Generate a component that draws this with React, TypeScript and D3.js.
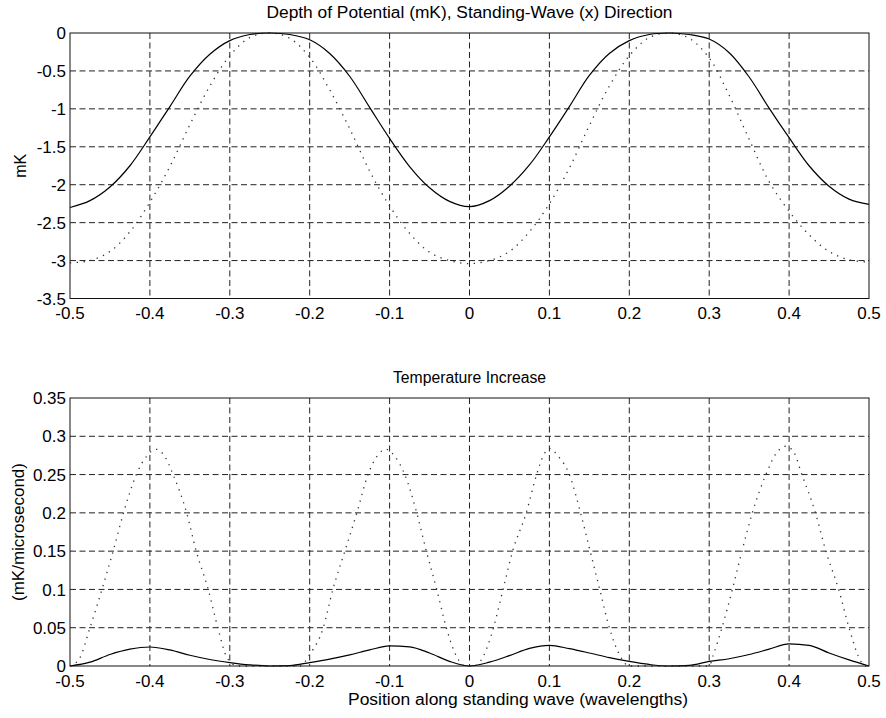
import React from 'react';
import * as d3 from 'd3';

// Shared horizontal axis (position in wavelengths)
const X_TICKS = [-0.5, -0.4, -0.3, -0.2, -0.1, 0, 0.1, 0.2, 0.3, 0.4, 0.5];
const X_TICK_LABELS = ['-0.5', '-0.4', '-0.3', '-0.2', '-0.1', '0', '0.1', '0.2', '0.3', '0.4', '0.5'];

// Upper panel: depth of potential (mK)
const DEPTH_TICKS = [0, -0.5, -1, -1.5, -2, -2.5, -3, -3.5];
const DEPTH_TICK_LABELS = ['0', '-0.5', '-1', '-1.5', '-2', '-2.5', '-3', '-3.5'];

const DEPTH_X = [
  -0.5, -0.475, -0.45, -0.425, -0.4, -0.375, -0.35, -0.325, -0.3, -0.275,
  -0.25, -0.225, -0.2, -0.175, -0.15, -0.125, -0.1, -0.075, -0.05, -0.025,
  0, 0.025, 0.05, 0.075, 0.1, 0.125, 0.15, 0.175, 0.2, 0.225,
  0.25, 0.275, 0.3, 0.325, 0.35, 0.375, 0.4, 0.425, 0.45, 0.475, 0.5,
];
const DEPTH_SOLID = [
  -2.3, -2.21, -2.03, -1.75, -1.37, -0.97, -0.57, -0.28, -0.1, -0.02,
  0, -0.02, -0.09, -0.27, -0.57, -0.98, -1.39, -1.76, -2.04, -2.22,
  -2.29, -2.21, -2.02, -1.74, -1.37, -0.97, -0.56, -0.27, -0.1, -0.02,
  0, -0.02, -0.08, -0.26, -0.58, -0.99, -1.38, -1.75, -2.02, -2.19, -2.26,
];
const DEPTH_DOTTED = [
  -3.03, -3.0, -2.88, -2.62, -2.23, -1.76, -1.21, -0.7, -0.3, -0.06,
  0, -0.07, -0.32, -0.75, -1.26, -1.82, -2.28, -2.64, -2.89, -3.0,
  -3.04, -3.0, -2.88, -2.62, -2.25, -1.78, -1.22, -0.7, -0.3, -0.06,
  0, -0.07, -0.33, -0.82, -1.4, -1.96, -2.35, -2.66, -2.88, -2.99, -3.02,
];

// Lower panel: temperature increase (mK/microsecond)
const HEAT_TICKS = [0, 0.05, 0.1, 0.15, 0.2, 0.25, 0.3, 0.35];
const HEAT_TICK_LABELS = ['0', '0.05', '0.1', '0.15', '0.2', '0.25', '0.3', '0.35'];

const HEAT_X = DEPTH_X;
const HEAT_SOLID = [
  0, 0.005, 0.015, 0.022, 0.0248, 0.021, 0.014, 0.0085, 0.0045, 0.0015,
  0, 0.0005, 0.0045, 0.009, 0.0145, 0.021, 0.0262, 0.025, 0.017, 0.006,
  0, 0.005, 0.0135, 0.023, 0.027, 0.0226, 0.017, 0.011, 0.006, 0.002,
  0, 0.0008, 0.006, 0.0095, 0.015, 0.022, 0.029, 0.027, 0.017, 0.008, 0,
];

const HEAT_DOTTED_X = [
  -0.5, -0.488, -0.475, -0.46, -0.446, -0.433, -0.417, -0.404, -0.392, -0.381,
  -0.371, -0.354, -0.342, -0.327, -0.315, -0.303, -0.29,
  -0.212, -0.2, -0.183, -0.171, -0.156, -0.141, -0.127, -0.115, -0.104,
  -0.093, -0.081, -0.066, -0.054, -0.041, -0.029, -0.016, -0.005,
  0.005, 0.017, 0.03, 0.042, 0.054, 0.071, 0.084, 0.093, 0.1,
  0.111, 0.125, 0.139, 0.151, 0.163, 0.175, 0.188, 0.2,
  0.3, 0.305, 0.316, 0.329, 0.341, 0.354, 0.371, 0.384, 0.396,
  0.406, 0.416, 0.433, 0.446, 0.462, 0.475, 0.487, 0.495, 0.5,
];
const HEAT_DOTTED = [
  0, 0.01, 0.05, 0.1, 0.15, 0.2, 0.25, 0.274, 0.283, 0.273,
  0.25, 0.2, 0.15, 0.1, 0.05, 0.01, 0,
  0, 0.015, 0.05, 0.1, 0.15, 0.2, 0.25, 0.275, 0.283,
  0.273, 0.25, 0.2, 0.15, 0.1, 0.05, 0.012, 0,
  0, 0.012, 0.05, 0.1, 0.15, 0.2, 0.25, 0.276, 0.284,
  0.274, 0.25, 0.2, 0.15, 0.1, 0.05, 0.014, 0,
  0, 0.014, 0.05, 0.1, 0.15, 0.2, 0.25, 0.278, 0.287,
  0.279, 0.25, 0.2, 0.15, 0.1, 0.05, 0.012, 0, 0,
];

const FONT = "'Liberation Sans', Arial, Helvetica, sans-serif";
const PLOT_LEFT = 70;
const PLOT_RIGHT = 869;

type Series = { xs: number[]; ys: number[]; dotted: boolean };

type PanelProps = {
  top: number;
  bottom: number;
  yDomain: [number, number];
  yTicks: number[];
  yTickLabels: string[];
  title: string;
  titleWidth: number;
  yLabel: string;
  yLabelX: number;
  yLabelWidth?: number;
  curve: d3.CurveFactory;
  series: Series[];
};

function Panel(p: PanelProps) {
  const x = d3.scaleLinear().domain([-0.5, 0.5]).range([PLOT_LEFT, PLOT_RIGHT]);
  const y = d3.scaleLinear().domain(p.yDomain).range([p.bottom, p.top]);
  const midX = (PLOT_LEFT + PLOT_RIGHT) / 2;
  const midY = (p.top + p.bottom) / 2;

  return (
    <g>
      {/* dashed grid */}
      <g stroke="#222" strokeWidth={1} strokeDasharray="6 3.5" fill="none">
        {X_TICKS.slice(1, -1).map((t) => (
          <line key={'gx' + t} x1={x(t)} x2={x(t)} y1={p.top} y2={p.bottom} />
        ))}
        {p.yTicks
          .filter((t) => t !== p.yDomain[0] && t !== p.yDomain[1])
          .map((t) => (
            <line key={'gy' + t} x1={PLOT_LEFT} x2={PLOT_RIGHT} y1={y(t)} y2={y(t)} />
          ))}
      </g>

      {/* curves */}
      {p.series.map((s, i) => {
        const pts: [number, number][] = s.xs.map((v, k) => [v, s.ys[k]]);
        const line = d3
          .line<[number, number]>()
          .x((d) => x(d[0]))
          .y((d) => y(d[1]))
          .curve(p.curve);
        return (
          <path
            key={i}
            d={line(pts) || ''}
            fill="none"
            stroke={s.dotted ? '#333' : '#000'}
            strokeWidth={s.dotted ? 1.3 : 1.2}
            strokeDasharray={s.dotted ? '1.3 5.5' : undefined}
          />
        );
      })}

      {/* axes box */}
      <rect
        x={PLOT_LEFT}
        y={p.top}
        width={PLOT_RIGHT - PLOT_LEFT}
        height={p.bottom - p.top}
        fill="none"
        stroke="#111"
        strokeWidth={1}
      />

      {/* tick labels */}
      <g fontFamily={FONT} fontSize={17} fill="#000">
        {X_TICKS.map((t, i) => (
          <text key={'xt' + t} x={x(t)} y={p.bottom + 20.5} textAnchor="middle">
            {X_TICK_LABELS[i]}
          </text>
        ))}
        {p.yTicks.map((t, i) => (
          <text key={'yt' + t} x={66} y={y(t)} dy="0.36em" textAnchor="end">
            {p.yTickLabels[i]}
          </text>
        ))}
      </g>
      <g fontFamily={FONT} fontSize={16} fill="#000">
        <text
          x={midX}
          y={p.top - 14.7}
          textAnchor="middle"
          textLength={p.titleWidth}
          lengthAdjust="spacingAndGlyphs"
        >
          {p.title}
        </text>
        <text
          transform={`translate(${p.yLabelX},${midY}) rotate(-90)`}
          textAnchor="middle"
          textLength={p.yLabelWidth}
          lengthAdjust={p.yLabelWidth ? 'spacingAndGlyphs' : undefined}
        >
          {p.yLabel}
        </text>
      </g>
    </g>
  );
}

export default function App() {
  return (
    <svg
      width={886}
      height={718}
      viewBox="0 0 886 718"
      style={{ position: 'absolute', left: 0, top: 0, background: '#fff' }}
    >
      <rect x={0} y={0} width={886} height={718} fill="#fff" />
      <Panel
        top={33}
        bottom={298.5}
        yDomain={[-3.5, 0]}
        yTicks={DEPTH_TICKS}
        yTickLabels={DEPTH_TICK_LABELS}
        title="Depth of Potential (mK), Standing-Wave (x) Direction"
        titleWidth={406}
        yLabel="mK"
        yLabelX={25.5}
        curve={d3.curveCatmullRom.alpha(0.5)}
        series={[
          { xs: DEPTH_X, ys: DEPTH_SOLID, dotted: false },
          { xs: DEPTH_X, ys: DEPTH_DOTTED, dotted: true },
        ]}
      />
      <Panel
        top={398}
        bottom={666}
        yDomain={[0, 0.35]}
        yTicks={HEAT_TICKS}
        yTickLabels={HEAT_TICK_LABELS}
        title="Temperature Increase"
        titleWidth={153}
        yLabel="(mK/microsecond)"
        yLabelX={23.5}
        yLabelWidth={138}
        curve={d3.curveMonotoneX}
        series={[
          { xs: HEAT_X, ys: HEAT_SOLID, dotted: false },
          { xs: HEAT_DOTTED_X, ys: HEAT_DOTTED, dotted: true },
        ]}
      />
      <text
        x={348}
        y={705}
        fontFamily={FONT}
        fontSize={16}
        textLength={340}
        lengthAdjust="spacingAndGlyphs"
      >
        Position along standing wave (wavelengths)
      </text>
    </svg>
  );
}
